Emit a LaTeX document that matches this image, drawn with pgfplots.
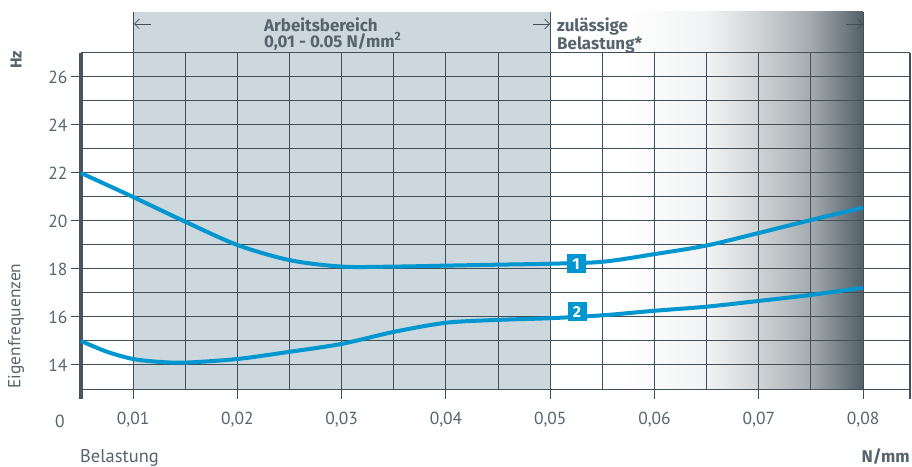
\documentclass[border=0pt]{standalone}
\usepackage{fontspec}
\setmainfont{PT Sans}
\newfontfamily\hdrfont{Fira Sans}
\usepackage{pgfplots}
\pgfplotsset{compat=1.18}
\usetikzlibrary{arrows.meta}

\definecolor{gridcol}{HTML}{404F58}
\definecolor{axiscol}{HTML}{46555E}
\definecolor{bandcol}{HTML}{CDD7DE}
\definecolor{textcol}{HTML}{56656D}
\definecolor{curvecol}{HTML}{0096CF}

\begin{document}
\begin{tikzpicture}
\begin{axis}[
    set layers,
    scale only axis,
    width=829bp, height=336bp,
    xmin=0.005, xmax=0.0845,
    ymin=13, ymax=27,
    clip=false,
    axis line style={draw=none},
    scaled x ticks=false,
    xtick={0.01,0.02,0.03,0.04,0.05,0.06,0.07,0.08},
    xticklabels={{0,01},{0,02},{0,03},{0,04},{0,05},{0,06},{0,07},{0,08}},
    minor xtick={0.015,0.025,0.035,0.045,0.055,0.065,0.075},
    ytick={14,16,18,20,22,24,26},
    minor ytick={13,15,17,19,21,23,25,27},
    grid=both,
    grid style={draw=gridcol, line width=1bp},
    minor grid style={draw=gridcol, line width=1bp},
    tick align=outside,
    xtick pos=bottom, ytick pos=left,
    major tick length=10bp, minor tick length=0pt,
    major tick style={draw=gridcol, line width=1bp},
    /pgf/number format/assume math mode=true,
    tick label style={font=\fontsize{17.5}{20}\selectfont, text=textcol},
    xticklabel style={yshift=-10bp},
]
\begin{pgfonlayer}{axis background}
  \fill[bandcol] (axis cs:0.01,13) rectangle (axis cs:0.05,28.71);
  \shade[left color=white, right color=white!93!gridcol, draw=none]
    (axis cs:0.057,13) rectangle (axis cs:0.0651,28.71);
  \shade[left color=white!93!gridcol, right color=white!75!gridcol, draw=none]
    (axis cs:0.065,13) rectangle (axis cs:0.0701,28.71);
  \shade[left color=white!75!gridcol, right color=white!52!gridcol, draw=none]
    (axis cs:0.07,13) rectangle (axis cs:0.0751,28.71);
  \shade[left color=white!52!gridcol, right color=white!10!gridcol, draw=none]
    (axis cs:0.075,13) rectangle (axis cs:0.08,28.71);
\end{pgfonlayer}

% header borders
\draw[gridcol, line width=1bp] (axis cs:0.01,27) -- (axis cs:0.01,28.71);
\draw[gridcol, line width=1bp] (axis cs:0.05,27) -- (axis cs:0.05,28.71);
\draw[gridcol, line width=1bp] (axis cs:0.08,27) -- (axis cs:0.08,28.71);
% frame
\draw[axiscol, line width=3bp] (axis cs:0.005,12.58) -- (axis cs:0.005,27);
\draw[gridcol, line width=1.6bp] (axis cs:0.0845,12.58) -- (axis cs:0.0845,27);

% curve 1
\addplot[curvecol, line width=4bp, smooth, tension=0.5] coordinates {
    (0.005,22.0) (0.0075,21.5) (0.01,21.0) (0.015,19.97) (0.02,19.0)
    (0.025,18.37) (0.03,18.1) (0.035,18.1) (0.04,18.14) (0.045,18.18)
    (0.05,18.22) (0.055,18.3) (0.06,18.62) (0.065,18.98) (0.07,19.5)
    (0.075,20.04) (0.08,20.56)
};
% curve 2
\addplot[curvecol, line width=4bp, smooth, tension=0.5] coordinates {
    (0.005,15.0) (0.0075,14.55) (0.01,14.25) (0.0125,14.13) (0.015,14.1)
    (0.02,14.25) (0.025,14.55) (0.03,14.88) (0.035,15.38) (0.04,15.76)
    (0.045,15.88) (0.05,15.95) (0.055,16.07) (0.06,16.26) (0.065,16.43)
    (0.07,16.67) (0.075,16.92) (0.08,17.22)
};

\node[fill=curvecol, text=white, font=\hdrfont\bfseries\fontsize{16}{16}\selectfont,
      minimum size=19bp, inner sep=0pt] at (axis cs:0.05247,18.21) {1};
\node[fill=curvecol, text=white, font=\hdrfont\bfseries\fontsize{16}{16}\selectfont,
      minimum size=19bp, inner sep=0pt] at (axis cs:0.05257,16.21) {2};
\end{axis}

% header arrows
\draw[gridcol, line width=0.7bp, -{Straight Barb[length=5bp,width=10bp]}] (70bp,365bp) -- (53bp,365bp);
\draw[gridcol, line width=0.7bp, -{Straight Barb[length=5bp,width=10bp]}] (452bp,365bp) -- (469bp,365bp);
\draw[gridcol, line width=0.7bp, -{Straight Barb[length=5bp,width=10bp]}] (765bp,365bp) -- (782bp,365bp);

% header text
\begin{scope}[every node/.style={text=textcol, inner sep=0pt, anchor=north west, align=left,
      font=\hdrfont\bfseries\fontsize{17}{14.6}\selectfont}]
  \node at (183bp,371.5bp) {\lineskiplimit=-100pt Arbeitsbereich\\0,01 - 0.05 N/mm\textsuperscript{2}};
  \node at (476bp,371.5bp) {\lineskiplimit=-100pt zulässige\\Belastung*};
\end{scope}

% axis labels
\node[rotate=90, text=textcol, font=\hdrfont\bfseries\fontsize{16}{18}\selectfont] at (-65bp,329bp) {Hz};
\node[rotate=90, text=textcol, font=\fontsize{17.5}{20}\selectfont] at (-65bp,63bp) {Eigenfrequenzen};
\node[text=textcol, font=\fontsize{17.5}{20}\selectfont] at (-21bp,-32bp) {0};
\node[text=textcol, anchor=base west, inner sep=0pt, font=\fontsize{18.5}{20}\selectfont] at (-1bp,-73bp) {Belastung};
\node[text=textcol, anchor=base east, inner sep=0pt, font=\hdrfont\bfseries\fontsize{17}{20}\selectfont] at (829bp,-73bp) {N/mm};

% page frame
\path (-81bp,-78bp) rectangle (831bp,389bp);
\end{tikzpicture}
\end{document}
